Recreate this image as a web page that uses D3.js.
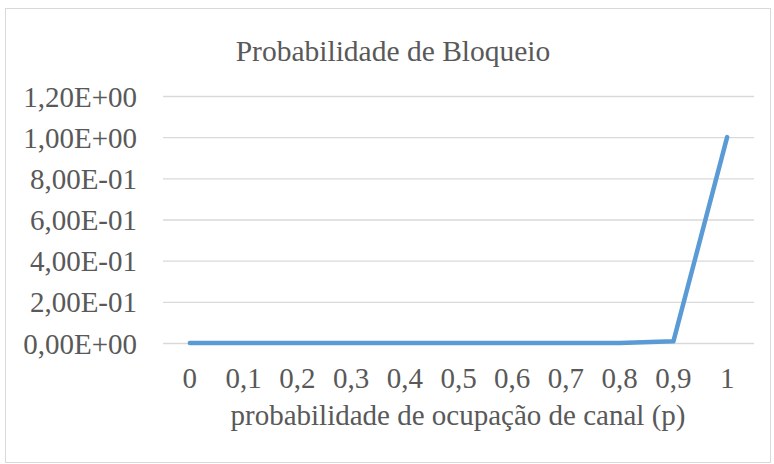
<!DOCTYPE html>
<html><head><meta charset="utf-8">
<script src="https://cdn.jsdelivr.net/npm/d3@7"></script>
</head>
<body style="margin:0"><svg id="c" width="774" height="464"></svg>
<script>
const categories = ["0","0,1","0,2","0,3","0,4","0,5","0,6","0,7","0,8","0,9","1"];
const blocking = [0,0,0,0,0,0,0,0,0.0005,0.008,1];
const yTicks = [0,0.2,0.4,0.6,0.8,1.0,1.2];
const yTickLabels = ["0,00E+00","2,00E-01","4,00E-01","6,00E-01","8,00E-01","1,00E+00","1,20E+00"];

const FONT = "serif";
const TEXT = "#595959";
const FS = 29;

const svg = d3.select("#c");
svg.append("rect").attr("x",5.5).attr("y",8.5).attr("width",765).attr("height",454)
  .attr("fill","#fff").attr("stroke","#d9d9d9");

const m = {l:163, r:754, t:96, b:343};
const x = d3.scaleBand().domain(categories).range([m.l,m.r]);
const y = d3.scaleLinear().domain([0,1.2]).range([m.b,m.t]);

svg.append("text").attr("x",393).attr("y",61).attr("text-anchor","middle")
  .attr("font-family",FONT).attr("fill",TEXT)
  .attr("font-size",29.5).text("Probabilidade de Bloqueio");

const gy = svg.append("g").attr("transform",`translate(${m.l},0)`)
  .call(d3.axisLeft(y).tickValues(yTicks).tickSize(-(m.r-m.l)).tickPadding(26)
    .tickFormat((d,i)=>yTickLabels[i]));
gy.select(".domain").remove();
gy.attr("font-family",FONT).attr("font-size",FS);
gy.selectAll("line").attr("stroke","#d9d9d9").attr("stroke-width",1.3);
gy.selectAll("text").attr("fill",TEXT).attr("dy","0.35em");

const gx = svg.append("g").attr("transform",`translate(0,${m.b})`)
  .call(d3.axisBottom(x).tickSize(0).tickPadding(24));
gx.select(".domain").remove();
gx.attr("font-family",FONT).attr("font-size",FS);
gx.selectAll("text").attr("fill",TEXT);

svg.append("text").attr("x",458).attr("y",425).attr("text-anchor","middle")
  .attr("font-family",FONT).attr("fill",TEXT)
  .attr("font-size",FS).text("probabilidade de ocupação de canal (p)");

const line = d3.line().x((d,i)=>x(categories[i])+x.bandwidth()/2).y(d=>y(d));
svg.append("path").datum(blocking).attr("d",line).attr("fill","none")
  .attr("stroke","#5b9bd5").attr("stroke-width",4.5)
  .attr("stroke-linecap","round").attr("stroke-linejoin","round");
</script></body></html>
